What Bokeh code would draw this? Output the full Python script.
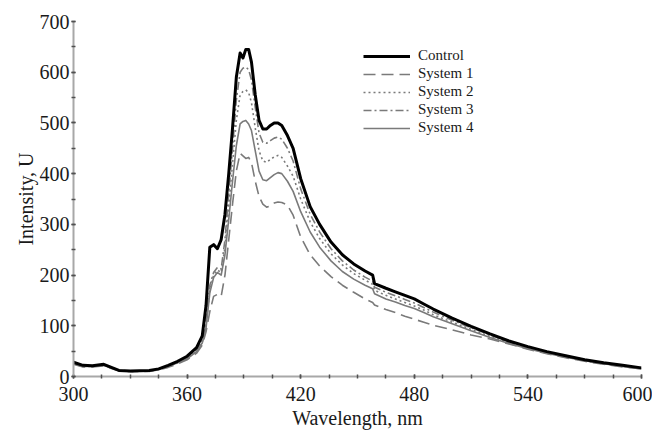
from bokeh.plotting import figure
from bokeh.models import Range1d, FixedTicker, Legend, LegendItem, Title
from bokeh.embed import file_html
from bokeh.resources import INLINE

# ---------------- data ----------------
wavelength = [300, 305, 310, 316, 320, 324, 330, 340, 345, 350, 355, 360, 365, 368, 370,
              372, 374, 376, 378, 380, 382, 384, 386, 388, 389.5, 391, 392.5, 394, 396, 398,
              400, 402, 404, 406, 408, 410, 413, 416, 420, 425, 430, 436, 442, 448, 454,
              458, 459, 465, 470, 475, 480, 485, 490, 500, 510, 520, 530, 540, 550, 560,
              570, 580, 590, 600]

control = [28, 22, 21, 24, 18, 12, 11, 12, 15, 22, 30, 40, 57, 80, 140,
           255, 260, 252, 270, 320, 400, 490, 590, 638, 628, 645, 645, 620, 555, 505,
           488, 488, 495, 500, 500, 495, 475, 450, 390, 335, 300, 265, 240, 222, 208,
           200, 183, 174, 167, 160, 153, 143, 133, 115, 99, 84, 70, 59, 49, 41,
           33, 27, 22, 17]

system1 = [24, 19, 19, 21, 16, 11, 10, 10, 13, 18, 25, 33, 46, 62, 88,
           128, 158, 162, 158, 200, 270, 340, 405, 440, 435, 430, 432, 422, 385, 355,
           340, 334, 336, 342, 344, 343, 338, 318, 275, 240, 218, 197, 180, 166, 153,
           146, 141, 132, 126, 119, 113, 107, 101, 92, 82, 74, 64, 54, 45, 37,
           30, 24, 19, 15]

system2 = [25, 20, 20, 22, 17, 12, 10, 11, 14, 20, 27, 36, 50, 68, 100,
           170, 200, 210, 205, 255, 335, 420, 505, 555, 562, 565, 560, 540, 490, 445,
           425, 422, 428, 433, 436, 432, 415, 395, 350, 305, 272, 242, 220, 203, 190,
           182, 170, 160, 153, 146, 139, 131, 122, 107, 93, 79, 67, 56, 47, 39,
           31, 25, 20, 16]

system3 = [26, 21, 20, 22, 17, 12, 10, 11, 14, 20, 28, 37, 52, 72, 110,
           180, 205, 215, 212, 270, 360, 450, 545, 600, 608, 610, 605, 585, 530, 480,
           462, 460, 465, 470, 472, 468, 450, 425, 370, 320, 285, 252, 228, 210, 196,
           188, 176, 166, 159, 152, 145, 136, 127, 111, 96, 82, 69, 58, 48, 40,
           32, 26, 21, 16]

system4 = [25, 20, 20, 22, 17, 12, 10, 11, 14, 20, 27, 35, 49, 66, 96,
           165, 195, 205, 200, 240, 310, 385, 455, 498, 503, 505, 498, 485, 445, 405,
           388, 386, 392, 398, 402, 400, 385, 365, 325, 285, 255, 228, 207, 192, 180,
           173, 163, 153, 147, 140, 134, 126, 118, 104, 90, 77, 65, 55, 46, 38,
           31, 25, 20, 15]

series_names = ["Control", "System 1", "System 2", "System 3", "System 4"]
x_major = [300, 360, 420, 480, 540, 600]
x_minor = list(range(300, 601, 15))
y_major = [0, 100, 200, 300, 400, 500, 600, 700]
y_minor = list(range(0, 701, 50))

# ---------------- figure ----------------
FONT = "Liberation Serif"
p = figure(width=652, height=431, output_backend="svg", toolbar_location=None,
           x_range=Range1d(300, 600), y_range=Range1d(0, 700),
           min_border_left=73, min_border_right=11, min_border_top=21, min_border_bottom=55)
p.outline_line_color = None
p.grid.visible = False
p.background_fill_color = "white"
p.border_fill_color = "white"

for ax in (p.xaxis[0], p.yaxis[0]):
    ax.axis_line_color = "#a8a8a8"
    ax.axis_line_width = 2
    ax.major_tick_line_color = "#505050"
    ax.minor_tick_line_color = "#505050"
    ax.major_tick_line_width = 1.5
    ax.minor_tick_line_width = 1.5
    ax.major_tick_in = 2
    ax.major_tick_out = 2
    ax.minor_tick_in = 2
    ax.minor_tick_out = 2
    ax.major_label_text_font = FONT
    ax.major_label_text_font_size = "20px"
    ax.major_label_text_color = "#1a1a1a"
    ax.axis_label_text_font = FONT
    ax.axis_label_text_font_size = "20px"
    ax.axis_label_text_font_style = "normal"
    ax.axis_label_text_color = "#1a1a1a"

p.xaxis.ticker = FixedTicker(ticks=x_major, minor_ticks=x_minor)
p.yaxis.ticker = FixedTicker(ticks=y_major, minor_ticks=y_minor)
p.xaxis.major_label_standoff = 8
p.yaxis.major_label_standoff = 2
p.xaxis.axis_label = "Wavelength, nm"
p.xaxis.axis_label_standoff = 3

# y axis title (its centre sits above the middle of the axis in the reference)
ytitle = Title(text="Intensity, U", align="center", offset=28,
               text_font=FONT, text_font_size="20px", text_font_style="normal",
               text_color="#1a1a1a", standoff=0)
p.add_layout(ytitle, "left")

styles = [
    dict(line_color="black", line_width=3.0),
    dict(line_color="#7a7a7a", line_width=1.6, line_dash="12 6"),
    dict(line_color="#7a7a7a", line_width=1.6, line_dash="2 3"),
    dict(line_color="#7a7a7a", line_width=1.6, line_dash="8 3 2 3"),
    dict(line_color="#7a7a7a", line_width=1.6),
]
data = [control, system1, system2, system3, system4]
rmap = {}
for i in [4, 3, 2, 1, 0]:
    rmap[i] = p.line(wavelength, data[i], line_join="round", **styles[i])

items = [LegendItem(label=series_names[i], renderers=[rmap[i]]) for i in range(5)]
legend = Legend(items=items, location=(290, 240), orientation="vertical",
                glyph_width=47, glyph_height=14, label_height=14, spacing=1,
                label_standoff=8, padding=0, margin=0,
                border_line_color=None, background_fill_alpha=0,
                label_text_font=FONT, label_text_font_size="15px",
                label_text_color="#1a1a1a")
p.add_layout(legend)

open("out.html", "w").write(file_html(p, INLINE))
